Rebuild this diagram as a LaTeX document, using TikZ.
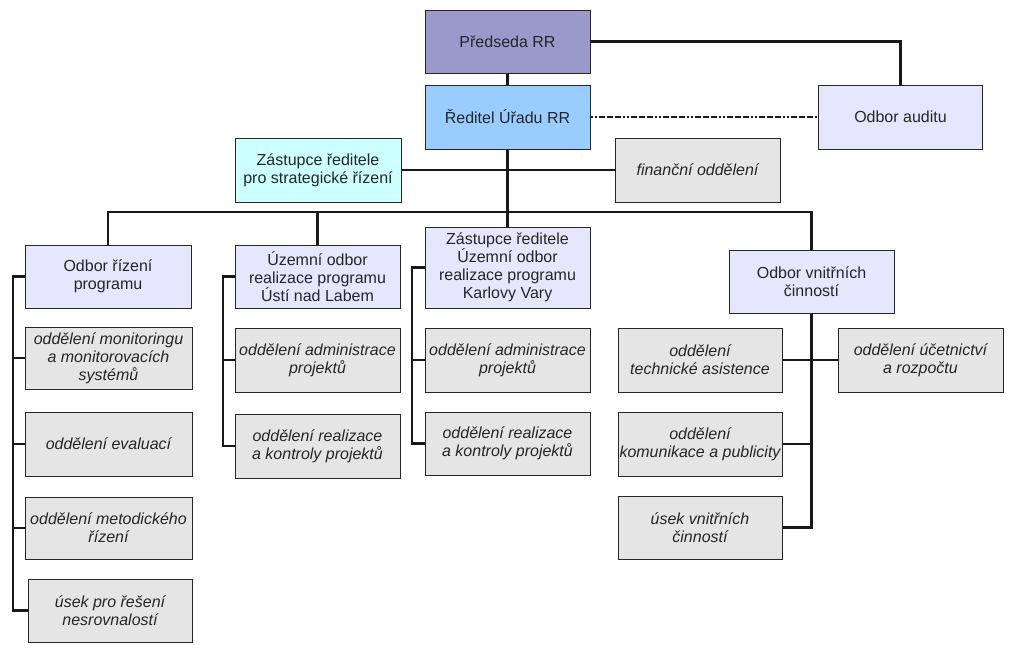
\documentclass[tikz,border=0pt]{standalone}
\usepackage{fontspec}
\setmainfont{Liberation Sans}
\definecolor{cpur}{HTML}{9999CC}
\definecolor{cblu}{HTML}{99CCFF}
\definecolor{clav}{HTML}{E6E6FF}
\definecolor{cgry}{HTML}{E5E5E5}
\definecolor{ccya}{HTML}{CCFFFF}
\begin{document}
\begin{tikzpicture}[x=0.75pt,y=-0.75pt,
  box/.style={draw=black!85, line width=0.75pt, align=center, inner sep=0pt,
    font=\fontsize{12}{13.5}\selectfont, text=black!85,
    minimum width=165*0.75pt, minimum height=64*0.75pt},
  sz/.style 2 args={minimum width=#1*0.75pt, minimum height=#2*0.75pt},
  headbox/.style={box, fill=cpur},
  dirbox/.style={box, fill=cblu},
  lavbox/.style={box, fill=clav},
  cyabox/.style={box, fill=ccya},
  grybox/.style={box, fill=cgry, font=\fontsize{12}{13.5}\selectfont\itshape},
  conn/.style={line width=1.6pt, black!90},
  dashconn/.style={line width=2pt, black!90,
    dash pattern=on 1.5pt off 1.5pt on 1.5pt off 1.5pt on 4.5pt off 1.5pt on 4.5pt off 1.5pt on 4.5pt off 1.5pt}
]
\path[fill=white] (0,0) rectangle (1015,653);
\useasboundingbox (0,0) rectangle (1015,653);

% top
\node[headbox, sz={165}{63}] (pred) at (507.5,41.5) {Předseda RR};
\node[dirbox] (red) at (507.5,117) {Ředitel Úřadu RR};
\node[lavbox, sz={164}{64}] (aud) at (900.5,117) {Odbor auditu};
\node[grybox] (fin) at (697.5,170) {finanční oddělení};
\node[cyabox, sz={166}{64}] (zst) at (318,170) {Zástupce ředitele\\pro strategické řízení};

% column 1
\node[lavbox, sz={166}{63}] (orp) at (108,276.5) {Odbor řízení\\programu};
\node[grybox, sz={167}{62}] (m1) at (108.5,358) {oddělení monitoringu\\a monitorovacích\\systémů};
\node[grybox, sz={167}{64}] (m2) at (108.5,444) {oddělení evaluací};
\node[grybox, sz={167}{62}] (m3) at (108.5,528) {oddělení metodického\\řízení};
\node[grybox, sz={164}{63}] (m4) at (110,610.5) {úsek pro řešení\\nesrovnalostí};

% column 2
\node[lavbox, sz={165}{63}] (ul) at (317.5,276.5) {Územní odbor\\realizace programu\\Ústí nad Labem};
\node[grybox] (u1) at (317.5,360) {oddělení administrace\\projektů};
\node[grybox] (u2) at (317.5,446) {oddělení realizace\\a kontroly projektů};

% column 3
\node[lavbox, sz={165}{81}] (kv) at (507.5,267.5) {Zástupce ředitele\\Územní odbor\\realizace programu\\Karlovy Vary};
\node[grybox] (k1) at (507.5,360) {oddělení administrace\\projektů};
\node[grybox, sz={165}{63}] (k2) at (507.5,443.5) {oddělení realizace\\a kontroly projektů};

% column 4
\node[lavbox, sz={165}{63}] (ov) at (811.5,281.5) {Odbor vnitřních\\činností};
\node[grybox, sz={164}{64}] (v1) at (700,360) {oddělení\\technické asistence};
\node[grybox, sz={164}{64}] (v2) at (700,444) {oddělení\\komunikace a publicity};
\node[grybox, sz={164}{63}] (v3) at (700,527.5) {úsek vnitřních\\činností};
\node[grybox, sz={165}{64}] (vu) at (920.5,360) {oddělení účetnictví\\a rozpočtu};

% coordinates
\coordinate (busy) at (0,212);
\coordinate (sp1) at (13,0);
\coordinate (sp2) at (223,0);
\coordinate (sp3) at (412,0);

% connectors top
\draw[conn] (pred.south) -- (red.north);
\draw[conn] (pred.east) -- (aud.north |- pred.east) -- (aud.north);
\draw[dashconn] (red.east) -- (aud.west);
\draw[conn] (zst.east) -- (fin.west);
\draw[conn] (red.south) -- (red.south |- busy);
\draw[conn] (orp.north) -- (orp.north |- busy) -- (ov.north |- busy) -- (ov.north);
\draw[conn] (ul.north) -- (ul.north |- busy);
\draw[conn] (kv.north) -- (kv.north |- busy);

% column 1 spine
\draw[conn] (orp.west) -- (sp1 |- orp.west) -- (sp1 |- m4.west) -- (m4.west);
\draw[conn] (m1.west) -- (sp1 |- m1.west);
\draw[conn] (m2.west) -- (sp1 |- m2.west);
\draw[conn] (m3.west) -- (sp1 |- m3.west);

% column 2 spine
\draw[conn] (ul.west) -- (sp2 |- ul.west) -- (sp2 |- u2.west) -- (u2.west);
\draw[conn] (u1.west) -- (sp2 |- u1.west);

% column 3 spine
\draw[conn] (kv.west) -- (sp3 |- kv.west) -- (sp3 |- k2.west) -- (k2.west);
\draw[conn] (k1.west) -- (sp3 |- k1.west);

% column 4 spine
\draw[conn] (ov.south) -- (ov.south |- v3.east) -- (v3.east);
\draw[conn] (v1.east) -- (vu.west);
\draw[conn] (v2.east) -- (ov.south |- v2.east);
\end{tikzpicture}
\end{document}
